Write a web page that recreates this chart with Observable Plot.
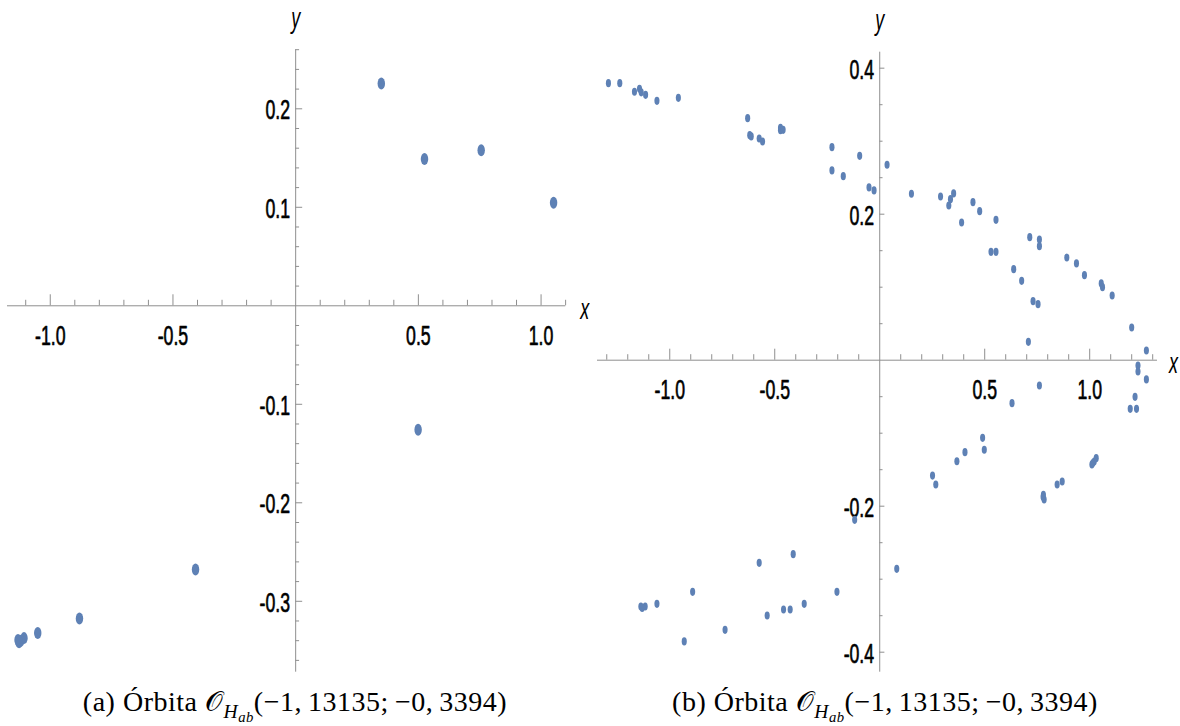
<!DOCTYPE html>
<html><head><meta charset="utf-8">
<script src="https://cdn.jsdelivr.net/npm/d3@7"></script>
<script src="https://cdn.jsdelivr.net/npm/@observablehq/plot@0.6"></script>
<style>
body{margin:0;background:#fff;width:1180px;height:726px;overflow:hidden}
#row{display:flex}
.panel{width:590px}
.panel svg{display:block}
.cap{font-family:"Liberation Serif",serif;font-size:28px;letter-spacing:0.5px;text-align:center;margin-top:5px;white-space:nowrap;color:#000;line-height:34px}
.cap .m{font-family:"DejaVu Serif","DejaVu Sans",serif;font-style:normal}
.cap sub{font-size:70%;vertical-align:-0.35em;line-height:0}
.cap sub sub{font-size:75%;vertical-align:-0.3em}
</style></head><body>
<div id="row"><div class="panel" id="pa"></div><div class="panel" id="pb"></div></div>
<script>
// ---- data: panel (a)
const aX = [0.349, 0.525, 0.756, 1.051, 0.499, -0.408, -0.881, -1.051, -1.107, -1.12, -1.127, -1.13135];
const aY = [0.2257, 0.149, 0.158, 0.1046, -0.1259, -0.2677, -0.3175, -0.3323, -0.3374, -0.340, -0.3415, -0.3394];
// ---- data: panel (b)
const bX = [-1.292,-1.238,-1.168,-1.144,-1.136,-1.115,-1.061,-0.959,-0.629,-0.619,-0.612,-0.574,-0.558,-0.4726,-0.4726,-0.46,
  -0.2275,-0.2275,-0.1735,-0.0955,-0.051,-0.027,0.035,0.151,0.2897,0.329,0.337,0.352,0.39,0.444,0.476,0.53,0.5537,0.5537,
  0.638,0.676,0.7145,0.708,0.7303,0.754,0.7605,0.7605,0.891,0.937,0.975,1.055,1.061,1.107,1.2,1.27,
  1.23,1.23,1.27,1.216,1.193,1.223,0.7605,0.63,0.49,0.498,0.406,0.3675,0.2515,0.267,
  0.7795,0.783,0.778,0.845,0.869,1.0105,1.0215,1.031,1.015,
  -0.1193,0.0811,-0.2037,-0.412,-0.574,-0.3596,-0.4265,-0.458,-0.536,-0.7366,-0.891,-0.931,-1.061,-1.117,-1.1375,-1.13135];
const bY = [0.3795,0.3795,0.3677,0.3718,0.367,0.3635,0.3553,0.3594,0.3315,0.3082,0.3065,0.3037,0.2996,0.3183,0.3150,0.3156,
  0.2918,0.2599,0.2521,0.28,0.2366,0.2325,0.2677,0.228,0.2242,0.2119,0.2206,0.2284,0.1886,0.2165,0.2041,0.1485,0.1485,0.1923,
  0.1247,0.1087,0.1685,0.0252,0.0808,0.0767,0.1653,0.1562,0.1407,0.1325,0.1164,0.1051,0.1,0.0886,0.0448,0.0133,
  -0.0073,-0.0155,-0.0264,-0.0502,-0.0666,-0.0666,-0.0347,-0.0589,-0.1063,-0.1227,-0.126,-0.1384,-0.158,-0.1703,
  -0.1844,-0.1908,-0.1875,-0.1703,-0.1662,-0.1429,-0.1388,-0.1342,-0.1410,
  -0.2187,-0.2858,-0.3173,-0.2657,-0.2776,-0.3337,-0.3415,-0.3415,-0.3497,-0.3693,-0.3173,-0.3853,-0.3337,-0.3374,-0.3374,-0.3394];
// ---- ticks
const aXMajor = [-1.0, -0.5, 0.5, 1.0];
const aXMinor = [-1.1,-0.9,-0.8,-0.7,-0.6,-0.4,-0.3,-0.2,-0.1,0.1,0.2,0.3,0.4,0.6,0.7,0.8,0.9,1.1];
const aYMajor = [-0.3, -0.2, -0.1, 0.1, 0.2];
const aYMinor = [-0.36,-0.34,-0.32,-0.28,-0.26,-0.24,-0.22,-0.18,-0.16,-0.14,-0.12,-0.08,-0.06,-0.04,-0.02,
  0.02,0.04,0.06,0.08,0.12,0.14,0.16,0.18,0.22,0.24,0.26];
const bXMajor = [-1.0, -0.5, 0.5, 1.0];
const bXMinor = [-1.3,-1.2,-1.1,-0.9,-0.8,-0.7,-0.6,-0.4,-0.3,-0.2,-0.1,0.1,0.2,0.3,0.4,0.6,0.7,0.8,0.9,1.1,1.2,1.3];
const bYMajor = [-0.4, -0.2, 0.2, 0.4];
const bYMinor = [-0.35,-0.3,-0.25,-0.15,-0.1,-0.05,0.05,0.1,0.15,0.25,0.3,0.35];
const captionA = "(a)";
const captionB = "(b)";

const S = 0.621;            // horizontal compression of the original figure
const W = 590 / S;
const H = 680;
const AXIS = "#8f8f8f";
const BLUE = "#5e81b5";
const fmt = d => d.toFixed(1).replace("−", "-");
const lab = {fontSize: 28.5, fontFamily: "Liberation Sans", fill: "#000", stroke: "#000", strokeWidth: 0.7};

function panel(cfg) {
  const pts = cfg.xs.map((x, i) => ({x, y: cfg.ys[i]}));
  const svg = Plot.plot({
    width: W, height: H,
    marginTop: cfg.mt, marginBottom: H - 671.7, marginLeft: cfg.ml / S, marginRight: cfg.mr / S,
    x: {domain: cfg.xd, axis: null},
    y: {domain: cfg.yd, axis: null},
    style: {background: "white"},
    marks: [
      Plot.ruleY([0], {stroke: AXIS, strokeWidth: 1}),
      Plot.ruleX([0], {stroke: AXIS, strokeWidth: 1}),
      Plot.ruleX(cfg.xMinor, {x: d => d, y1: 0, y2: 0, insetBottom: 5.5, stroke: AXIS}),
      Plot.ruleX(cfg.xMajor, {x: d => d, y1: 0, y2: 0, insetBottom: 11, stroke: AXIS}),
      Plot.ruleY(cfg.yMinor, {y: d => d, x1: 0, x2: 0, insetLeft: cfg.yMinorLen, stroke: AXIS}),
      Plot.ruleY(cfg.yMajor, {y: d => d, x1: 0, x2: 0, insetLeft: cfg.yMajorLen, stroke: AXIS}),
      Plot.text(cfg.xMajor, {x: d => d, y: 0, text: fmt, dy: 30, lineAnchor: "middle", textAnchor: "middle", ...lab}),
      Plot.text(cfg.yMajor, {x: 0, y: d => d, text: fmt, dx: -9, dy: 1.5, lineAnchor: "middle", textAnchor: "end", ...lab}),
      Plot.text(["x"], {frameAnchor: "right", y: 0, text: d => d, dx: cfg.xlDx, dy: 4, lineAnchor: "middle",
        textAnchor: "middle", fontSize: 29, fontStyle: "italic", fontFamily: "Liberation Sans", fill: "#000"}),
      Plot.text(["y"], {frameAnchor: "top", x: 0, text: d => d, dy: -31, lineAnchor: "middle",
        textAnchor: "middle", fontSize: 29, fontStyle: "italic", fontFamily: "Liberation Sans", fill: "#000"}),
      Plot.dot(pts, {x: "x", y: "y", r: cfg.r, fill: BLUE, stroke: "none"})
    ]
  });
  svg.setAttribute("width", 590);
  svg.setAttribute("preserveAspectRatio", "none");
  svg.style.width = "590px";
  svg.style.height = H + "px";
  svg.style.maxWidth = "none";
  svg.querySelectorAll("line, path").forEach(el => el.setAttribute("vector-effect", "non-scaling-stroke"));
  const host = document.getElementById(cfg.id);
  host.appendChild(svg);
  const cap = document.createElement("div");
  cap.className = "cap";
  cap.innerHTML = cfg.cap + ' Órbita <span class="m">𝒪</span><sub><i>H</i><sub><i>ab</i></sub></sub>(−1,&thinsp;13135;&thinsp;−0,&thinsp;3394)';
  host.appendChild(cap);
}

panel({id: "pa", xs: aX, ys: aY, xd: [-1.175, 1.1], yd: [-0.372, 0.26], mt: 49.2, ml: 7, mr: 24.7,
  xMajor: aXMajor, xMinor: aXMinor, yMajor: aYMajor, yMinor: aYMinor, yMajorLen: 11, yMinorLen: 6,
  r: 6, xlDx: 31, cap: captionA});
panel({id: "pb", xs: bX, ys: bY, xd: [-1.345, 1.322], yd: [-0.4274, 0.4219], mt: 51.7, ml: 7, mr: 23,
  xMajor: bXMajor, xMinor: bXMinor, yMajor: bYMajor, yMinor: bYMinor, yMajorLen: 8, yMinorLen: 5,
  r: 4.1, xlDx: 26, cap: captionB});
</script>
</body></html>
